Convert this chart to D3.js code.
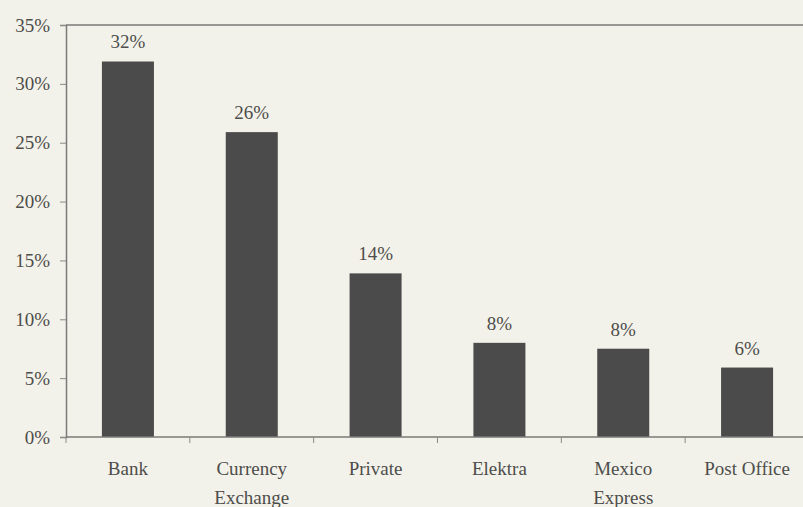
<!DOCTYPE html>
<html>
<head>
<meta charset="utf-8">
<script src="https://cdn.jsdelivr.net/npm/d3@7"></script>
<style>
  body { margin: 0; background: #f3f2ea; }
  svg { display: block; }
  text { font-family: "Liberation Serif", "Times New Roman", serif; fill: #4d4d4b; }
</style>
</head>
<body>
<svg id="chart" width="803" height="507"></svg>
<script>
const categories = [["Bank"], ["Currency", "Exchange"], ["Private"], ["Elektra"], ["Mexico", "Express"], ["Post Office"]];
const values = [31.9, 25.9, 13.9, 8.0, 7.5, 5.9];
const valueLabels = ["32%", "26%", "14%", "8%", "8%", "6%"];
const yTicks = [0, 5, 10, 15, 20, 25, 30, 35];

const svg = d3.select("#chart");
const plotLeft = 66, plotRight = 809, plotTop = 25, plotBottom = 437;
const fontSize = 19;

const x = d3.scaleBand()
  .domain(d3.range(categories.length))
  .range([plotLeft, plotRight])
  .paddingInner(0.58)
  .paddingOuter(0.29);
const y = d3.scaleLinear().domain([0, 35]).range([plotBottom, plotTop]);

// frame top line
svg.append("line")
  .attr("x1", plotLeft).attr("x2", 803)
  .attr("y1", y(35)).attr("y2", y(35))
  .attr("stroke", "#7a7a78").attr("stroke-width", 1.5);

// bars
svg.append("g").selectAll("rect")
  .data(values)
  .join("rect")
  .attr("x", (d, i) => x(i))
  .attr("y", d => y(d))
  .attr("width", x.bandwidth())
  .attr("height", d => y(0) - y(d))
  .attr("fill", "#4b4b4b");

// value labels
svg.append("g").selectAll("text")
  .data(values)
  .join("text")
  .attr("x", (d, i) => x(i) + x.bandwidth() / 2)
  .attr("y", d => y(d) - 13)
  .attr("text-anchor", "middle")
  .attr("font-size", fontSize)
  .text((d, i) => valueLabels[i]);

// y axis
const yAxis = svg.append("g")
  .attr("transform", `translate(${plotLeft},0)`)
  .call(d3.axisLeft(y).tickValues(yTicks).tickFormat(d => d + "%").tickSize(6).tickPadding(10));
yAxis.select(".domain").attr("stroke", "#7a7a78").attr("stroke-width", 1.5);
yAxis.selectAll(".tick line").attr("stroke", "#8a8a88");
yAxis.selectAll(".tick text").attr("font-size", fontSize).attr("fill", "#4d4d4b")
  .style("font-family", "Liberation Serif, serif");

// x axis baseline and boundary ticks
const step = x.step();
const boundaries = d3.range(categories.length + 1).map(i => plotLeft + i * step);
svg.append("line")
  .attr("x1", plotLeft).attr("x2", 803)
  .attr("y1", y(0)).attr("y2", y(0))
  .attr("stroke", "#7a7a78").attr("stroke-width", 1.5);
svg.append("g").selectAll("line")
  .data(boundaries)
  .join("line")
  .attr("x1", d => d).attr("x2", d => d)
  .attr("y1", y(0)).attr("y2", y(0) + 6)
  .attr("stroke", "#8a8a88");

// category labels
const cat = svg.append("g").selectAll("text")
  .data(categories)
  .join("text")
  .attr("text-anchor", "middle")
  .attr("font-size", fontSize)
  .attr("x", (d, i) => x(i) + x.bandwidth() / 2);
cat.selectAll("tspan")
  .data(d => d)
  .join("tspan")
  .attr("x", function () { return d3.select(this.parentNode).attr("x"); })
  .attr("y", (d, j) => 475 + j * 29)
  .text(d => d);
</script>
</body>
</html>
